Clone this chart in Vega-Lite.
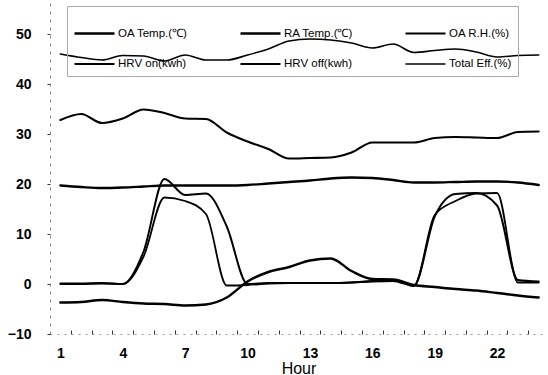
{
  "$schema": "https://vega.github.io/schema/vega-lite/v6.json",
  "width": 497,
  "height": 331,
  "autosize": {"type": "none"},
  "padding": {"left": 50, "top": 3, "right": 1, "bottom": 41},
  "background": "white",
  "config": {"view": {"stroke": null}, "font": "Liberation Sans"},
  "data": {
    "values": [
      {"hour":1,"series":"OA Temp.(℃)","value":-3.7},{"hour":1,"series":"RA Temp.(℃)","value":19.7},{"hour":1,"series":"OA R.H.(%)","value":32.8},{"hour":1,"series":"HRV on(kwh)","value":0.1},{"hour":1,"series":"HRV off(kwh)","value":0.0},{"hour":1,"series":"Total Eff.(%)","value":46.0},
      {"hour":2,"series":"OA Temp.(℃)","value":-3.6},{"hour":2,"series":"RA Temp.(℃)","value":19.4},{"hour":2,"series":"OA R.H.(%)","value":34.0},{"hour":2,"series":"HRV on(kwh)","value":0.1},{"hour":2,"series":"HRV off(kwh)","value":0.0},{"hour":2,"series":"Total Eff.(%)","value":45.3},
      {"hour":3,"series":"OA Temp.(℃)","value":-3.2},{"hour":3,"series":"RA Temp.(℃)","value":19.2},{"hour":3,"series":"OA R.H.(%)","value":32.2},{"hour":3,"series":"HRV on(kwh)","value":0.2},{"hour":3,"series":"HRV off(kwh)","value":0.1},{"hour":3,"series":"Total Eff.(%)","value":44.8},
      {"hour":4,"series":"OA Temp.(℃)","value":-3.6},{"hour":4,"series":"RA Temp.(℃)","value":19.3},{"hour":4,"series":"OA R.H.(%)","value":33.1},{"hour":4,"series":"HRV on(kwh)","value":0.0},{"hour":4,"series":"HRV off(kwh)","value":0.0},{"hour":4,"series":"Total Eff.(%)","value":45.7},
      {"hour":5,"series":"OA Temp.(℃)","value":-3.9},{"hour":5,"series":"RA Temp.(℃)","value":19.5},{"hour":5,"series":"OA R.H.(%)","value":34.9},{"hour":5,"series":"HRV on(kwh)","value":6.5},{"hour":5,"series":"HRV off(kwh)","value":5.5},{"hour":5,"series":"Total Eff.(%)","value":45.6},
      {"hour":6,"series":"OA Temp.(℃)","value":-4.0},{"hour":6,"series":"RA Temp.(℃)","value":19.7},{"hour":6,"series":"OA R.H.(%)","value":34.2},{"hour":6,"series":"HRV on(kwh)","value":21.0},{"hour":6,"series":"HRV off(kwh)","value":17.3},{"hour":6,"series":"Total Eff.(%)","value":44.6},
      {"hour":7,"series":"OA Temp.(℃)","value":-4.3},{"hour":7,"series":"RA Temp.(℃)","value":19.7},{"hour":7,"series":"OA R.H.(%)","value":33.1},{"hour":7,"series":"HRV on(kwh)","value":17.8},{"hour":7,"series":"HRV off(kwh)","value":16.6},{"hour":7,"series":"Total Eff.(%)","value":45.8},
      {"hour":8,"series":"OA Temp.(℃)","value":-4.1},{"hour":8,"series":"RA Temp.(℃)","value":19.7},{"hour":8,"series":"OA R.H.(%)","value":33.0},{"hour":8,"series":"HRV on(kwh)","value":18.1},{"hour":8,"series":"HRV off(kwh)","value":14.0},{"hour":8,"series":"Total Eff.(%)","value":44.8},
      {"hour":9,"series":"OA Temp.(℃)","value":-2.7},{"hour":9,"series":"RA Temp.(℃)","value":19.7},{"hour":9,"series":"OA R.H.(%)","value":30.3},{"hour":9,"series":"HRV on(kwh)","value":11.5},{"hour":9,"series":"HRV off(kwh)","value":-0.3},{"hour":9,"series":"Total Eff.(%)","value":44.8},
      {"hour":10,"series":"OA Temp.(℃)","value":0.5},{"hour":10,"series":"RA Temp.(℃)","value":19.8},{"hour":10,"series":"OA R.H.(%)","value":28.5},{"hour":10,"series":"HRV on(kwh)","value":0.0},{"hour":10,"series":"HRV off(kwh)","value":-0.2},{"hour":10,"series":"Total Eff.(%)","value":45.8},
      {"hour":11,"series":"OA Temp.(℃)","value":2.4},{"hour":11,"series":"RA Temp.(℃)","value":20.1},{"hour":11,"series":"OA R.H.(%)","value":27.0},{"hour":11,"series":"HRV on(kwh)","value":0.2},{"hour":11,"series":"HRV off(kwh)","value":0.1},{"hour":11,"series":"Total Eff.(%)","value":47.0},
      {"hour":12,"series":"OA Temp.(℃)","value":3.4},{"hour":12,"series":"RA Temp.(℃)","value":20.4},{"hour":12,"series":"OA R.H.(%)","value":25.1},{"hour":12,"series":"HRV on(kwh)","value":0.2},{"hour":12,"series":"HRV off(kwh)","value":0.2},{"hour":12,"series":"Total Eff.(%)","value":48.6},
      {"hour":13,"series":"OA Temp.(℃)","value":4.7},{"hour":13,"series":"RA Temp.(℃)","value":20.7},{"hour":13,"series":"OA R.H.(%)","value":25.2},{"hour":13,"series":"HRV on(kwh)","value":0.2},{"hour":13,"series":"HRV off(kwh)","value":0.2},{"hour":13,"series":"Total Eff.(%)","value":49.0},
      {"hour":14,"series":"OA Temp.(℃)","value":5.1},{"hour":14,"series":"RA Temp.(℃)","value":21.1},{"hour":14,"series":"OA R.H.(%)","value":25.3},{"hour":14,"series":"HRV on(kwh)","value":0.2},{"hour":14,"series":"HRV off(kwh)","value":0.2},{"hour":14,"series":"Total Eff.(%)","value":48.8},
      {"hour":15,"series":"OA Temp.(℃)","value":2.6},{"hour":15,"series":"RA Temp.(℃)","value":21.3},{"hour":15,"series":"OA R.H.(%)","value":26.3},{"hour":15,"series":"HRV on(kwh)","value":0.3},{"hour":15,"series":"HRV off(kwh)","value":0.3},{"hour":15,"series":"Total Eff.(%)","value":48.2},
      {"hour":16,"series":"OA Temp.(℃)","value":1.0},{"hour":16,"series":"RA Temp.(℃)","value":21.2},{"hour":16,"series":"OA R.H.(%)","value":28.3},{"hour":16,"series":"HRV on(kwh)","value":0.6},{"hour":16,"series":"HRV off(kwh)","value":0.5},{"hour":16,"series":"Total Eff.(%)","value":47.2},
      {"hour":17,"series":"OA Temp.(℃)","value":0.9},{"hour":17,"series":"RA Temp.(℃)","value":20.8},{"hour":17,"series":"OA R.H.(%)","value":28.3},{"hour":17,"series":"HRV on(kwh)","value":0.7},{"hour":17,"series":"HRV off(kwh)","value":0.6},{"hour":17,"series":"Total Eff.(%)","value":48.0},
      {"hour":18,"series":"OA Temp.(℃)","value":-0.2},{"hour":18,"series":"RA Temp.(℃)","value":20.3},{"hour":18,"series":"OA R.H.(%)","value":28.3},{"hour":18,"series":"HRV on(kwh)","value":-0.3},{"hour":18,"series":"HRV off(kwh)","value":-0.4},{"hour":18,"series":"Total Eff.(%)","value":46.3},
      {"hour":19,"series":"OA Temp.(℃)","value":-0.6},{"hour":19,"series":"RA Temp.(℃)","value":20.3},{"hour":19,"series":"OA R.H.(%)","value":29.2},{"hour":19,"series":"HRV on(kwh)","value":13.5},{"hour":19,"series":"HRV off(kwh)","value":13.8},{"hour":19,"series":"Total Eff.(%)","value":46.7},
      {"hour":20,"series":"OA Temp.(℃)","value":-1.0},{"hour":20,"series":"RA Temp.(℃)","value":20.4},{"hour":20,"series":"OA R.H.(%)","value":29.4},{"hour":20,"series":"HRV on(kwh)","value":18.0},{"hour":20,"series":"HRV off(kwh)","value":16.6},{"hour":20,"series":"Total Eff.(%)","value":47.0},
      {"hour":21,"series":"OA Temp.(℃)","value":-1.3},{"hour":21,"series":"RA Temp.(℃)","value":20.5},{"hour":21,"series":"OA R.H.(%)","value":29.3},{"hour":21,"series":"HRV on(kwh)","value":18.2},{"hour":21,"series":"HRV off(kwh)","value":18.1},{"hour":21,"series":"Total Eff.(%)","value":46.4},
      {"hour":22,"series":"OA Temp.(℃)","value":-1.8},{"hour":22,"series":"RA Temp.(℃)","value":20.5},{"hour":22,"series":"OA R.H.(%)","value":29.2},{"hour":22,"series":"HRV on(kwh)","value":15.7},{"hour":22,"series":"HRV off(kwh)","value":18.2},{"hour":22,"series":"Total Eff.(%)","value":45.4},
      {"hour":23,"series":"OA Temp.(℃)","value":-2.3},{"hour":23,"series":"RA Temp.(℃)","value":20.3},{"hour":23,"series":"OA R.H.(%)","value":30.4},{"hour":23,"series":"HRV on(kwh)","value":0.8},{"hour":23,"series":"HRV off(kwh)","value":0.3},{"hour":23,"series":"Total Eff.(%)","value":45.7},
      {"hour":24,"series":"OA Temp.(℃)","value":-2.7},{"hour":24,"series":"RA Temp.(℃)","value":19.8},{"hour":24,"series":"OA R.H.(%)","value":30.5},{"hour":24,"series":"HRV on(kwh)","value":0.5},{"hour":24,"series":"HRV off(kwh)","value":0.3},{"hour":24,"series":"Total Eff.(%)","value":45.8}
    ]
  },
  "mark": {"type": "line", "interpolate": "monotone", "strokeCap": "round", "strokeJoin": "round"},
  "encoding": {
    "x": {
      "field": "hour",
      "type": "quantitative",
      "scale": {"domain": [0.5, 24.4], "nice": false, "zero": false},
      "axis": {
        "values": [1, 4, 7, 10, 13, 16, 19, 22, 1.5, 2.5, 3.5, 4.5, 5.5, 6.5, 7.5, 8.5, 9.5, 10.5, 11.5, 12.5, 13.5, 14.5, 15.5, 16.5, 17.5, 18.5, 19.5, 20.5, 21.5, 22.5, 23.5],
        "labelExpr": "datum.value % 1 === 0 ? datum.label : ''",
        "labelOverlap": false,
        "labelFlush": false,
        "labelFont": "Liberation Sans",
        "labelFontWeight": "bold",
        "labelFontSize": 14,
        "labelColor": "black",
        "labelPadding": 16,
        "tickSize": -4,
        "tickColor": "#333",
        "tickOpacity": {"condition": {"test": "datum.value % 1 === 0", "value": 0}, "value": 1},
        "domainColor": "#999",
        "domainDash": [2, 5],
        "grid": false,
        "title": "Hour",
        "titleFont": "Liberation Sans",
        "titleFontSize": 16,
        "titleFontWeight": "normal",
        "titleColor": "black",
        "titlePadding": 0
      }
    },
    "y": {
      "field": "value",
      "type": "quantitative",
      "scale": {"domain": [-10, 56.2], "nice": false, "zero": false},
      "axis": {
        "values": [-10, 0, 10, 20, 30, 40, 50],
        "title": null,
        "grid": false,
        "labelFont": "Liberation Sans",
        "labelFontWeight": "bold",
        "labelFontSize": 14,
        "labelColor": "black",
        "labelPadding": 16,
        "tickSize": 3,
        "tickColor": "#333",
        "domainColor": "#888",
        "domainDash": [3, 5]
      }
    },
    "color": {
      "field": "series",
      "type": "nominal",
      "scale": {
        "domain": ["OA Temp.(℃)", "RA Temp.(℃)", "OA R.H.(%)", "HRV on(kwh)", "HRV off(kwh)", "Total Eff.(%)"],
        "range": ["black", "black", "black", "black", "black", "black"]
      },
      "legend": {
        "orient": "none",
        "direction": "horizontal",
        "legendX": 17,
        "legendY": 3,
        "columns": 3,
        "title": null,
        "symbolType": "stroke",
        "symbolSize": 1600,
        "labelFont": "Liberation Sans",
        "labelFontSize": 11.5,
        "labelColor": "black",
        "labelOffset": 2,
        "columnPadding": 47,
        "rowPadding": 4,
        "padding": 6,
        "strokeColor": "#aaa"
      }
    },
    "strokeWidth": {
      "field": "series",
      "type": "nominal",
      "scale": {
        "domain": ["OA Temp.(℃)", "RA Temp.(℃)", "OA R.H.(%)", "HRV on(kwh)", "HRV off(kwh)", "Total Eff.(%)"],
        "range": [2.5, 1.6, 2.8, 2.2, 2.2, 3]
      }
    }
  }
}
